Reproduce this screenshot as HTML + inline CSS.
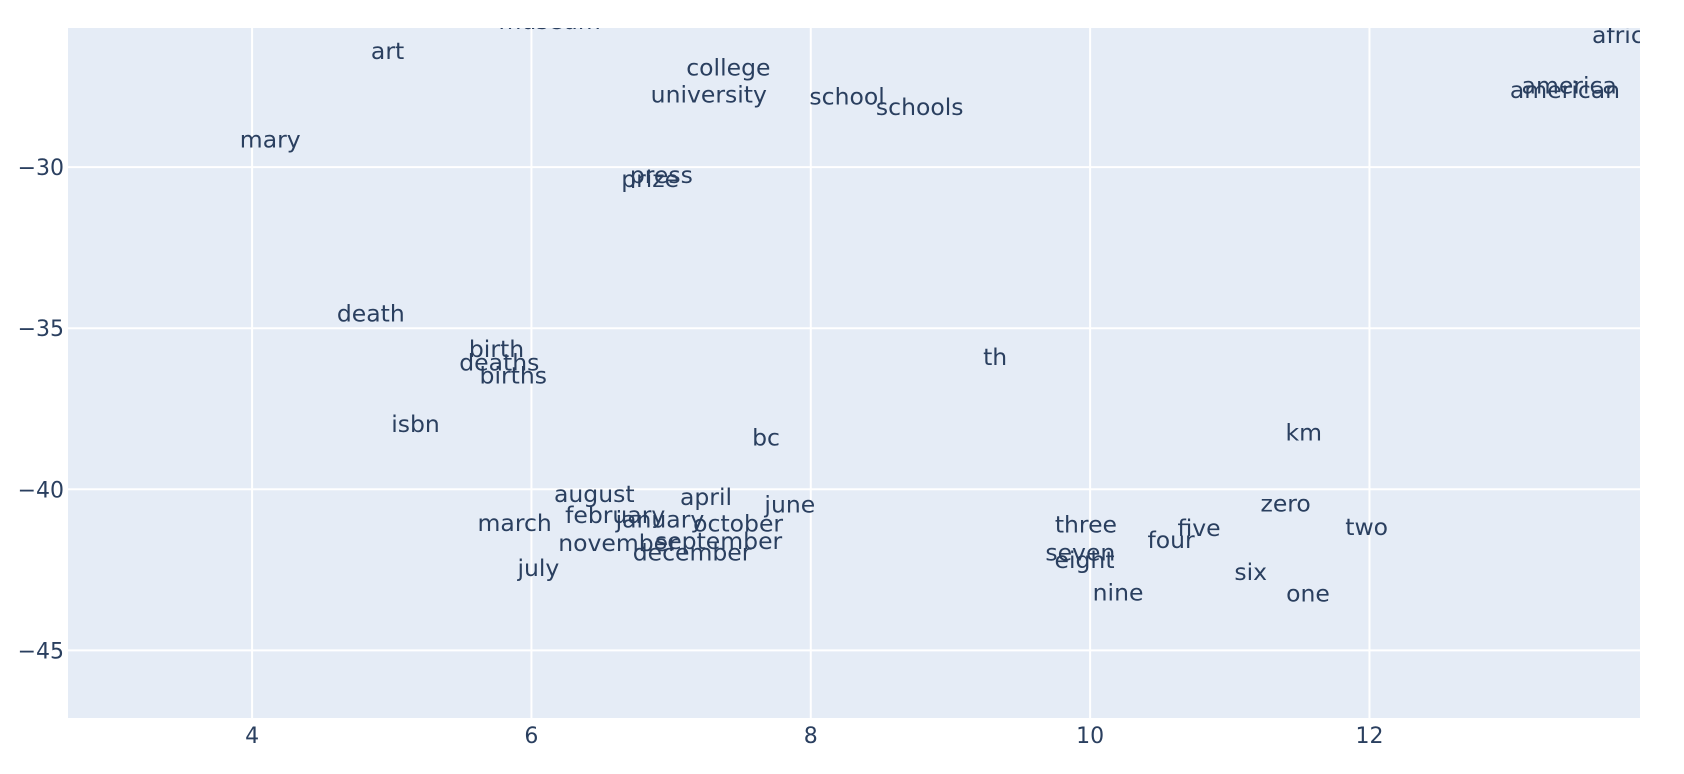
<!DOCTYPE html>
<html><head><meta charset="utf-8">
<style>
html,body{margin:0;padding:0;background:#fff;}
svg{display:block;font-family:"DejaVu Sans","Liberation Sans",sans-serif;}
</style></head>
<body>
<svg id="chart" width="1684" height="774">
<defs><clipPath id="plotclip"><rect x="68" y="28" width="1572" height="690"/></clipPath></defs>
<rect x="68" y="28" width="1572" height="690" fill="#e5ecf6"/>
<g id="grid"></g>
<g id="words" clip-path="url(#plotclip)"></g>
<g id="xticks"></g>
<g id="yticks"></g>
</svg>
<script>
const words = ["museum","art","college","university","school","schools","mary","press","prize","africa","america","american","death","birth","deaths","births","th","isbn","bc","km","august","april","june","february","january","october","march","november","september","december","july","zero","three","five","two","four","seven","eight","six","nine","one"];
const xVals = [6.13,4.97,7.41,7.27,8.26,8.78,4.13,6.93,6.85,13.83,13.43,13.4,4.85,5.75,5.77,5.87,9.32,5.17,7.68,11.53,6.45,7.25,7.85,6.6,6.92,7.48,5.88,6.62,7.34,7.15,6.05,11.4,9.97,10.78,11.98,10.58,9.93,9.96,11.15,10.2,11.56];
const yVals = [-25.5,-26.43,-26.93,-27.77,-27.83,-28.17,-29.17,-30.27,-30.4,-25.93,-27.5,-27.63,-34.57,-35.67,-36.1,-36.5,-35.93,-38.0,-38.43,-38.27,-40.17,-40.27,-40.5,-40.83,-40.97,-41.1,-41.07,-41.7,-41.63,-42.0,-42.47,-40.47,-41.13,-41.23,-41.2,-41.6,-42.0,-42.23,-42.6,-43.23,-43.27];
const xTicks = [4,6,8,10,12];
const yTicks = [-30,-35,-40,-45];
const xDomain = [2.682,13.937];
const yDomain = [-47.1,-25.68];

const L=68,R=1640,T=28,B=718;
const sx = v => L + (v-xDomain[0])/(xDomain[1]-xDomain[0])*(R-L);
const sy = v => B - (v-yDomain[0])/(yDomain[1]-yDomain[0])*(B-T);
const NS="http://www.w3.org/2000/svg";
const grid=document.getElementById('grid'), wg=document.getElementById('words'),
      xg=document.getElementById('xticks'), yg=document.getElementById('yticks');
function mk(tag,attrs,parent){const e=document.createElementNS(NS,tag);for(const k in attrs)e.setAttribute(k,attrs[k]);parent.appendChild(e);return e;}
xTicks.forEach(t=>{
  const ln=mk('line',{x1:sx(t),x2:sx(t),y1:T,y2:B,stroke:'#fff','stroke-width':2},grid);
  
  
  const tx=mk('text',{x:sx(t),y:743,'text-anchor':'middle','font-size':22,fill:'#2a3f5f'},xg);
  tx.textContent=String(t);
  
  
});
yTicks.forEach(t=>{
  const ln=mk('line',{x1:L,x2:R,y1:sy(t),y2:sy(t),stroke:'#fff','stroke-width':2},grid);
  
  
  const tx=mk('text',{x:64,y:sy(t)+8,'text-anchor':'end','font-size':22,fill:'#2a3f5f'},yg);
  tx.textContent='\u2212'+Math.abs(t);
  
  
});
words.forEach((w,i)=>{
  const tx=mk('text',{x:sx(xVals[i]),y:sy(yVals[i])+7,'text-anchor':'middle','font-size':23.5,fill:'#2a3f5f'},wg);
  tx.textContent=w;
  
  
});
</script>
</body></html>
